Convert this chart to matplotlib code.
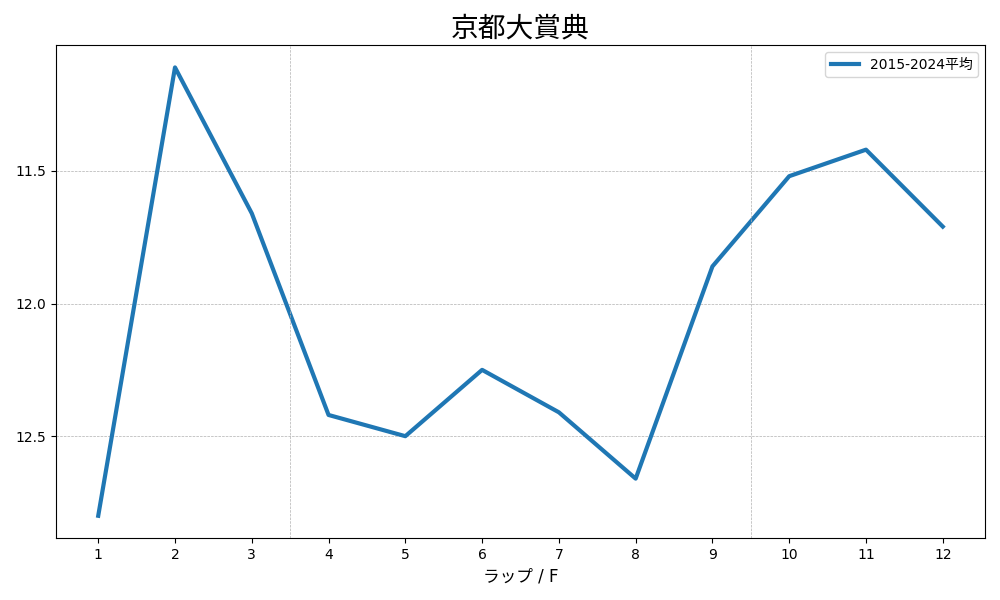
import matplotlib
matplotlib.use("Agg")
import matplotlib.pyplot as plt

plt.rcParams['font.family'] = ['DejaVu Sans', 'Noto Sans CJK JP']

laps = [1, 2, 3, 4, 5, 6, 7, 8, 9, 10, 11, 12]
avg_2015_2024 = [12.80, 11.11, 11.66, 12.42, 12.50, 12.25, 12.41, 12.66, 11.86, 11.52, 11.42, 11.71]
yticks = [11.5, 12.0, 12.5]
section_lines = [3.5, 9.5]

fig, ax = plt.subplots(figsize=(10, 6), dpi=100)
ax.plot(laps, avg_2015_2024, color='#1f77b4', linewidth=3, label='2015-2024平均')
ax.invert_yaxis()
ax.set_xticks(laps)
ax.set_yticks(yticks)
ax.set_yticklabels([f"{v:.1f}" for v in yticks])
ax.yaxis.grid(True, linestyle='--', linewidth=0.5, color='#b0b0b0')
for x in section_lines:
    ax.axvline(x, color='#b0b0b0', linestyle='--', linewidth=0.5)
ax.set_xlabel('ラップ / F', fontsize=12)
ax.set_title('京都大賞典', fontsize=20)
ax.legend(loc='upper right')
fig.subplots_adjust(left=0.056, right=0.985, top=0.925, bottom=0.103)
fig.savefig('out.png')
